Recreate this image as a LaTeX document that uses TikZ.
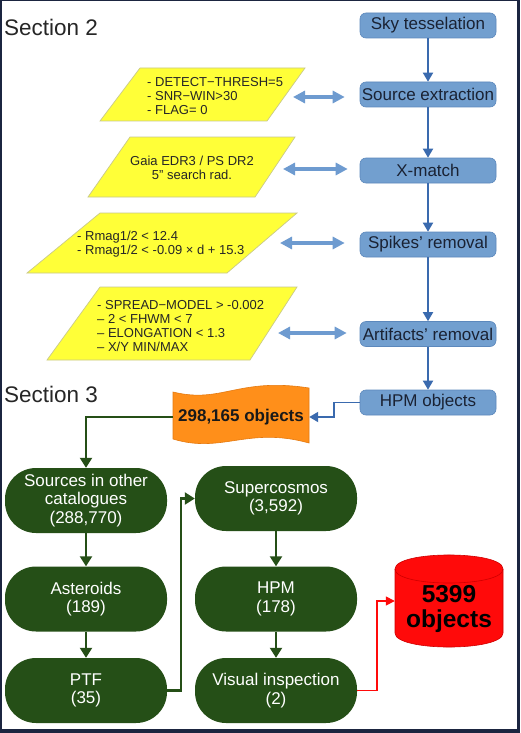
\documentclass[tikz,border=0pt]{standalone}
\usepackage{fontspec}
\setmainfont{Liberation Sans}
\usetikzlibrary{arrows.meta}
\definecolor{navyframe}{HTML}{1B2540}
\definecolor{boxblue}{HTML}{729FCF}
\definecolor{boxblueline}{HTML}{5C88BC}
\definecolor{arrblue}{HTML}{3A6AAE}
\definecolor{dblblue}{HTML}{6E9BD0}
\definecolor{yfill}{HTML}{FFFF38}
\definecolor{yline}{HTML}{C9C98A}
\definecolor{gfill}{HTML}{254F17}
\definecolor{ofill}{HTML}{FF8F1A}
\definecolor{oline}{HTML}{E57A10}
\definecolor{rfill}{HTML}{FF0A0A}
\definecolor{rline}{HTML}{D00000}
\definecolor{txtdark}{HTML}{1A2233}
\tikzset{
  bluebox/.style={draw=boxblueline, fill=boxblue, line width=0.6pt, rounded corners=6pt,
    minimum width=136pt, minimum height=25pt, inner sep=0pt, text=txtdark,
    font=\fontsize{17}{19}\selectfont},
  greenbox/.style={fill=gfill, rounded corners=31pt, minimum width=162pt, minimum height=65pt,
    inner sep=0pt, text=white, align=center, font=\fontsize{17}{18.5}\selectfont},
  paratext/.style={inner sep=0pt, text=black!85, font=\fontsize{13}{14.2}\selectfont},
  parashape/.style={fill=yfill, draw=yline, line width=0.7pt},
  barr/.style={draw=arrblue, line width=1.8pt, -{Triangle[width=10pt,length=9pt]}},
  garr/.style={draw=gfill, line width=2.2pt, -{Triangle[width=12pt,length=10pt]}},
  rarr/.style={draw=rfill, line width=1.5pt, -{Triangle[width=9pt,length=9pt]}},
  dblarr/.style={draw=dblblue, line width=4.2pt,
    {Triangle[width=12pt,length=12pt]}-{Triangle[width=12pt,length=12pt]}},
  sectlabel/.style={inner sep=0pt, text=black!85, font=\fontsize{22.5}{24}\selectfont},
}
\begin{document}
\begin{tikzpicture}[x=1pt,y=-1pt]
\useasboundingbox (0,0) rectangle (520,733);
% frame
\fill[navyframe] (0,0) rectangle (520,733);
\fill[white] (1.5,1.5) rectangle (516.5,729);

% section labels
\node[sectlabel, anchor=base west] (s2) at (4,36) {Section 2};
\node[sectlabel, anchor=base west] (s3) at (4,402) {Section 3};

% blue process boxes
\node[bluebox] (sky) at (428,25.5) {Sky tesselation};
\node[bluebox] (srcx) at (428,94.5) {Source extraction};
\node[bluebox] (xm) at (428,170.5) {X-match};
\node[bluebox] (spk) at (428,244.5) {Spikes’ removal};
\node[bluebox] (art) at (428,334) {Artifacts’ removal};
\node[bluebox] (hpmo) at (428,402.5) {HPM objects};

\draw[barr] (sky) -- (srcx);
\draw[barr] (srcx) -- (xm);
\draw[barr] (xm) -- (spk);
\draw[barr] (spk) -- (art);
\draw[barr] (art) -- (hpmo);

% parallelograms
\draw[parashape] (140,68) -- (305,68) -- (267,121) -- (100,121) -- cycle;
\draw[parashape] (130,137) -- (295,137) -- (255,197) -- (88,197) -- cycle;
\draw[parashape] (100,213) -- (297,213) -- (227,273) -- (27,273) -- cycle;
\draw[parashape] (100,287) -- (297,287) -- (250,360) -- (47,360) -- cycle;

\node[paratext, anchor=west, align=left] (p1) at (147,96)
  {- DETECT−THRESH=5\\- SNR−WIN>30\\- FLAG= 0};
\node[paratext, align=center] (p2) at (192,168)
  {Gaia EDR3 / PS DR2\\5" search rad.};
\node[paratext, anchor=west, align=left] (p3) at (77,244.5)
  {- Rmag1/2 < 12.4\\- Rmag1/2 < -0.09 × d + 15.3};
\node[paratext, anchor=west, align=left] (p4) at (97,326)
  {- SPREAD−MODEL > -0.002\\– 2 < FHWM < 7\\– ELONGATION < 1.3\\– X/Y MIN/MAX};

\coordinate (e1) at (293,97);
\coordinate (e2) at (283,169);
\coordinate (e3) at (280,243);
\coordinate (e4) at (278,333);
\draw[dblarr, shorten >=15pt] (e1) -- (e1 -| srcx.west);
\draw[dblarr, shorten >=12pt] (e2) -- (e2 -| xm.west);
\draw[dblarr, shorten >=15pt] (e3) -- (e3 -| spk.west);
\draw[dblarr, shorten >=13pt] (e4) -- (e4 -| art.west);

% orange tape shape
\draw[fill=ofill, draw=oline, line width=0.6pt]
  (173,392) .. controls (222,404) and (238,377) .. (309,388)
  -- (309,443) .. controls (248,426) and (222,454) .. (173,439) -- cycle;
\node[minimum width=136pt, minimum height=50pt, inner sep=0pt,
  font=\fontsize{17}{19}\selectfont\bfseries, text=black!90] (obj) at (241,417) {298,165 objects};

\draw[barr] (hpmo.west) -- ++(-26,0) |- (obj.east);

% green boxes
\node[greenbox] (oth) at (86,500.5) {Sources in other\\catalogues\\(288,770)};
\node[greenbox] (ast) at (86,599) {Asteroids\\(189)};
\node[greenbox] (ptf) at (86,690.5) {PTF\\(35)};
\node[greenbox] (sup) at (276,498.5) {Supercosmos\\(3,592)};
\node[greenbox] (hpm) at (276,599) {HPM\\(178)};
\node[greenbox] (vis) at (276,690.5) {Visual inspection\\(2)};

\draw[garr] (obj.west) -| (oth.north);
\draw[garr] (oth) -- (ast);
\draw[garr] (ast) -- (ptf);
\draw[garr] (ptf.east) -- ++(14,0) |- (sup.west);
\draw[garr] (sup) -- (hpm);
\draw[garr] (hpm) -- (vis);

% red cylinder
\draw[fill=rfill, draw=rline, line width=0.6pt]
  (395,569) -- (395,633) .. controls (395,651.7) and (503,651.7) .. (503,633)
  -- (503,569) .. controls (503,550.3) and (395,550.3) .. (395,569) -- cycle;
\draw[draw=rline, line width=0.6pt] (395,569) .. controls (395,587.7) and (503,587.7) .. (503,569);
\node[minimum width=108pt, minimum height=92pt, inner sep=0pt] (db) at (449,601) {};
\node[inner sep=0pt, align=center,
  font=\fontsize{24.5}{25}\selectfont\bfseries, text=black] (dbt) at (449,609) {5399\\objects};
\draw[rarr] (vis.east) -- ++(20,0) |- (db.west);
\end{tikzpicture}
\end{document}
